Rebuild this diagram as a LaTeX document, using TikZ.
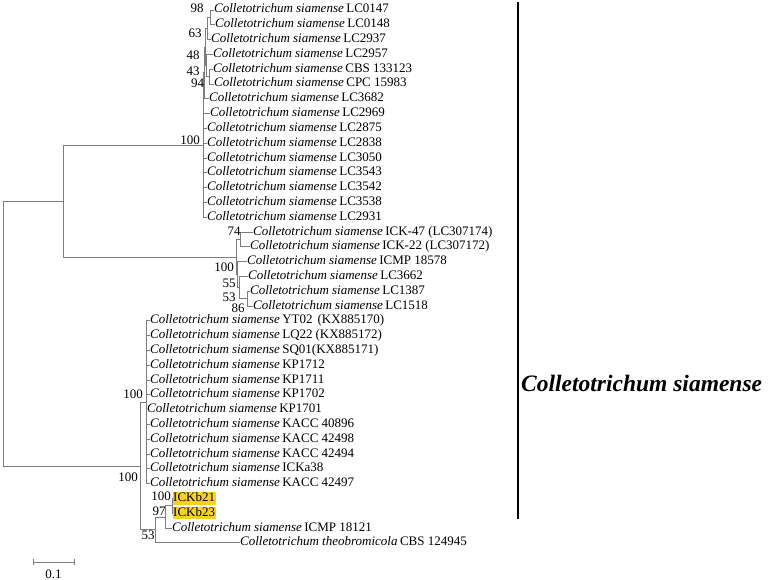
\documentclass[tikz,border=0pt]{standalone}
\usepackage{fontspec}
\setmainfont{Liberation Serif}
\definecolor{brc}{RGB}{125,125,125}
\definecolor{hly}{RGB}{247,210,30}
\newcommand\fsz{\fontsize{13}{15}\selectfont}
\newcommand\csp{\textit{Colletotrichum siamense}\hspace{2.5pt}}
\begin{document}
\begin{tikzpicture}[x=1pt,y=-1pt,
  br/.style={draw=brc, line width=0.8pt},
  leaf/.style={anchor=west, inner sep=0pt, font=\fsz, text height=9pt, text depth=3pt},
  bs/.style={inner sep=0pt, font=\fsz},
  hl/.style={leaf, fill=hly, inner xsep=0.5pt, text height=9.5pt, text depth=3pt}]
\useasboundingbox (0,0) rectangle (770,580);
% ---- leaves ----
\node[leaf] (l0) at (214,10.0) {\csp LC0147};
\node[leaf] (l1) at (215,24.8) {\csp LC0148};
\node[leaf] (l2) at (211,39.6) {\csp LC2937};
\node[leaf] (l3) at (213,54.4) {\csp LC2957};
\node[leaf] (l4) at (213,69.2) {\csp CBS 133123};
\node[leaf] (l5) at (214,84.0) {\csp CPC 15983};
\node[leaf] (l6) at (209,98.8) {\csp LC3682};
\node[leaf] (l7) at (210,113.6) {\csp LC2969};
\node[leaf] (l8) at (207,128.4) {\csp LC2875};
\node[leaf] (l9) at (207,143.2) {\csp LC2838};
\node[leaf] (l10) at (207,158.0) {\csp LC3050};
\node[leaf] (l11) at (207,172.8) {\csp LC3543};
\node[leaf] (l12) at (207,187.6) {\csp LC3542};
\node[leaf] (l13) at (207,202.4) {\csp LC3538};
\node[leaf] (l14) at (207,217.2) {\csp LC2931};
\node[leaf] (l15) at (253,232.0) {\csp ICK-47 (LC307174)};
\node[leaf] (l16) at (250,246.8) {\csp ICK-22 (LC307172)};
\node[leaf] (l17) at (247,261.6) {\csp ICMP 18578};
\node[leaf] (l18) at (248,276.4) {\csp LC3662};
\node[leaf] (l19) at (250,291.2) {\csp LC1387};
\node[leaf] (l20) at (253,306.0) {\csp LC1518};
\node[leaf] (l21) at (150,320.8) {\csp YT02\hspace{5pt}(KX885170)};
\node[leaf] (l22) at (150,335.6) {\csp LQ22\hspace{3pt}(KX885172)};
\node[leaf] (l23) at (150,350.4) {\csp SQ01(KX885171)};
\node[leaf] (l24) at (150,365.2) {\csp KP1712};
\node[leaf] (l25) at (150,380.0) {\csp KP1711};
\node[leaf] (l26) at (150,394.8) {\csp KP1702};
\node[leaf] (l27) at (147,409.6) {\csp KP1701};
\node[leaf] (l28) at (150,424.4) {\csp KACC 40896};
\node[leaf] (l29) at (150,439.2) {\csp KACC 42498};
\node[leaf] (l30) at (150,454.0) {\csp KACC 42494};
\node[leaf] (l31) at (150,468.8) {\csp ICKa38};
\node[leaf] (l32) at (150,483.6) {\csp KACC 42497};
\node[hl] (l33) at (172.5,498.6) {ICKb21};
\node[hl] (l34) at (172.5,513.2) {ICKb23};
\node[leaf] (l35) at (172,528.0) {\csp ICMP 18121};
\node[leaf] (l36) at (240,542.8) {\textit{Colletotrichum theobromicola}\hspace{2.5pt}CBS 124945};
% ---- internal nodes ----
\coordinate (root) at (3.5,333.5);
\coordinate (nU) at (63,201);
\coordinate (n100a) at (203,145);
\coordinate (n94) at (204.5,72.9);
\coordinate (nX) at (205.5,47);
\coordinate (n63) at (207.5,28.5);
\coordinate (n98) at (210.5,17.4);
\coordinate (n48) at (206.5,65.5);
\coordinate (n43) at (209.5,76.6);
\coordinate (n100b) at (236,257);
\coordinate (n74) at (240,239.4);
\coordinate (n55) at (237.5,274.55);
\coordinate (n53a) at (239,287.5);
\coordinate (n86) at (247,298.6);
\coordinate (nL) at (140,466);
\coordinate (n100c) at (146,402.2);
\coordinate (n53b) at (155,529.85);
\coordinate (n97) at (165,516.9);
\coordinate (nb) at (172,505.8);
% ---- branches ----
\draw[br] (root) |- (nU);
\draw[br] (root) |- (nL);
\draw[br] (nU) |- (n100a);
\draw[br] (nU) |- (n100b);
\draw[br] (n100a) |- (n94);
\foreach \i in {7,...,14} {\draw[br] (n100a) |- (l\i.west);}
\draw[br] (n94) |- (nX);
\draw[br] (n94) |- (l6.west);
\draw[br] (nX) |- (n63);
\draw[br] (nX) |- (n48);
\draw[br] (n63) |- (n98);
\draw[br] (n63) |- (l2.west);
\draw[br] (n98) |- (l0.west);
\draw[br] (n98) |- (l1.west);
\draw[br] (n48) |- (l3.west);
\draw[br] (n48) |- (n43);
\draw[br] (n43) |- (l4.west);
\draw[br] (n43) |- (l5.west);
\draw[br] (n100b) |- (n74);
\draw[br] (n100b) |- (n55);
\draw[br] (n74) |- (l15.west);
\draw[br] (n74) |- (l16.west);
\draw[br] (n55) |- (l17.west);
\draw[br] (n55) |- (n53a);
\draw[br] (n53a) |- (l18.west);
\draw[br] (n53a) |- (n86);
\draw[br] (n86) |- (l19.west);
\draw[br] (n86) |- (l20.west);
\draw[br] (nL) |- (n100c);
\draw[br] (nL) |- (n53b);
\foreach \i in {21,...,32} {\draw[br] (n100c) |- (l\i.west);}
\draw[br] (n53b) |- (n97);
\draw[br] (n53b) |- (l36.west);
\draw[br] (n97) |- (nb);
\draw[br] (n97) |- (l35.west);
\draw[br] (nb) |- (l33.west);
\draw[br] (nb) |- (l34.west);
% ---- bootstrap values ----
\node[bs] (b98) at (197,8) {98};
\node[bs] (b63) at (195,33) {63};
\node[bs] (b48) at (193,55) {48};
\node[bs] (b43) at (193,71.5) {43};
\node[bs] (b94) at (197.5,83.5) {94};
\node[bs] (b100a) at (190,140) {100};
\node[bs] (b74) at (234,231) {74};
\node[bs] (b100b) at (224,267) {100};
\node[bs] (b55) at (229,283) {55};
\node[bs] (b53a) at (229,297) {53};
\node[bs] (b86) at (238,308) {86};
\node[bs] (b100c) at (133,394) {100};
\node[bs] (b100d) at (128,477) {100};
\node[bs] (b100e) at (161,496) {100};
\node[bs] (b97) at (159,511) {97};
\node[bs] (b53b) at (148,535) {53};
% ---- clade bar ----
\coordinate (bt) at (518,2);
\coordinate (bb) at (518,519);
\draw[line width=2.6pt] (bt) -- (bb);
\node[anchor=west, inner sep=0pt, font=\fontsize{23.5}{25}\selectfont\bfseries\itshape] (clade) at (521,383) {Colletotrichum siamense};
% ---- scale bar ----
\coordinate (s1) at (33,562);
\coordinate (s2) at (74,562);
\draw[br] (s1) -- (s2);
\draw[br] ([yshift=-3pt]s1) -- ([yshift=3pt]s1);
\draw[br] ([yshift=-3pt]s2) -- ([yshift=3pt]s2);
\node[bs] (sl) at (53.5,574) {0.1};
\end{tikzpicture}
\end{document}
